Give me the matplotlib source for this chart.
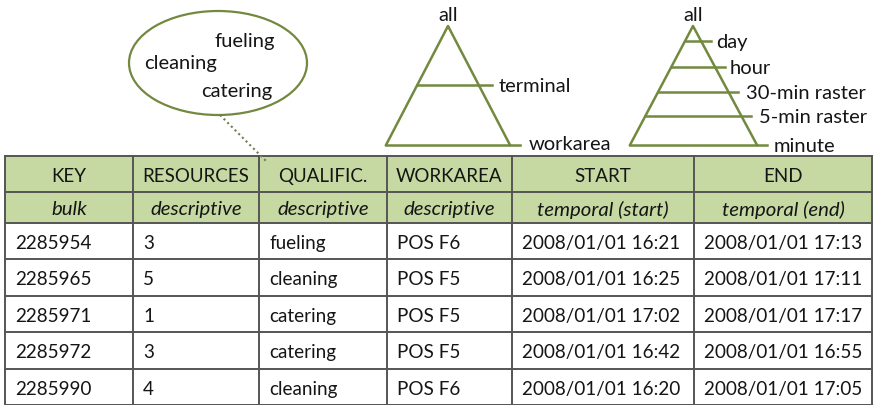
import matplotlib.pyplot as plt
import matplotlib.patches as patches

# --- data ---
columns = ["KEY", "RESOURCES", "QUALIFIC.", "WORKAREA", "START", "END"]
col_types = ["bulk", "descriptive", "descriptive", "descriptive", "temporal (start)", "temporal (end)"]
keys = ["2285954", "2285965", "2285971", "2285972", "2285990"]
resources = ["3", "5", "1", "3", "4"]
qualific = ["fueling", "cleaning", "catering", "catering", "cleaning"]
workarea = ["POS F6", "POS F5", "POS F5", "POS F5", "POS F6"]
start = ["2008/01/01 16:21", "2008/01/01 16:25", "2008/01/01 17:02", "2008/01/01 16:42", "2008/01/01 16:20"]
end = ["2008/01/01 17:13", "2008/01/01 17:11", "2008/01/01 17:17", "2008/01/01 16:55", "2008/01/01 17:05"]

qualific_values = ["fueling", "cleaning", "catering"]
area_levels = ["all", "terminal", "workarea"]
time_levels = ["all", "day", "hour", "30-min raster", "5-min raster", "minute"]

# --- layout (pixels) ---
W, H = 876, 406
col_x = [5, 133, 259, 387, 512, 694, 872]
row_y = [157, 193, 224, 260, 297, 333, 370, 406]
GREEN = "#c6d9a2"
OLIVE = "#72893f"
GRID = "#555555"
TXT = "#151515"
FONT = "Lato"

fig = plt.figure(figsize=(W / 100, H / 100), dpi=100)
ax = fig.add_axes([0, 0, 1, 1])
ax.set_xlim(0, W)
ax.set_ylim(H, 0)
ax.axis("off")

# header backgrounds
for r in (0, 1):
    ax.add_patch(patches.Rectangle((col_x[0], row_y[r]), col_x[-1] - col_x[0],
                                   row_y[r + 1] - row_y[r], facecolor=GREEN, edgecolor="none"))
# grid
for y in row_y:
    ax.plot([col_x[0], col_x[-1]], [y, y], color=GRID, lw=1.4)
for x in col_x:
    ax.plot([x, x], [row_y[0], row_y[-1]], color=GRID, lw=1.4)

for c in range(len(columns)):
    cx = (col_x[c] + col_x[c + 1]) / 2
    ax.text(cx, (row_y[0] + row_y[1]) / 2, columns[c], ha="center", va="center_baseline",
            fontsize=13.5, family=FONT, color=TXT)
    ax.text(cx, (row_y[1] + row_y[2]) / 2, col_types[c], ha="center", va="center_baseline",
            fontsize=14.7, family=FONT, style="italic", color=TXT)

table_cols = [keys, resources, qualific, workarea, start, end]
for c, vals in enumerate(table_cols):
    for r, v in enumerate(vals):
        y = (row_y[r + 2] + row_y[r + 3]) / 2
        ax.text(col_x[c] + 10, y, v, ha="left", va="center_baseline",
                fontsize=13.6, family=FONT, color=TXT)

# ellipse with qualification values
ax.add_patch(patches.Ellipse((218, 64), 178, 104, facecolor="white", edgecolor=OLIVE, lw=1.6))
ell_pos = [(245, 40), (181, 62), (237, 90)]
for (x, y), t in zip(ell_pos, qualific_values):
    ax.text(x, y, t, ha="center", va="center_baseline", fontsize=14.5, family=FONT, color=TXT)
ax.plot([220, 267], [116, 163], color="#6d7d52", lw=1.5, ls=(0, (1, 1.5)))

# area hierarchy triangle
apex1, bl1, br1, top1, bot1 = 448, 386, 510, 27, 146
ax.plot([bl1, apex1, br1], [bot1, top1, bot1], color=OLIVE, lw=1.8)
ax.plot([bl1, br1 + 10], [bot1, bot1], color=OLIVE, lw=1.8)
ax.plot([417, 492], [86, 86], color=OLIVE, lw=1.8)
ax.text(apex1, 14, area_levels[0], ha="center", va="center_baseline", fontsize=14.5, family=FONT, color=TXT)
ax.text(499, 85, area_levels[1], ha="left", va="center_baseline", fontsize=14.5, family=FONT, color=TXT)
ax.text(529, 143, area_levels[2], ha="left", va="center_baseline", fontsize=14.5, family=FONT, color=TXT)

# time hierarchy triangle
apex2, bl2, br2 = 693, 630, 757
ax.plot([bl2, apex2, br2], [bot1, top1, bot1], color=OLIVE, lw=1.8)
level_y = [42, 68, 93, 117, 146]
label_x = [716, 730, 746, 759, 774]
for yy, lx, t in zip(level_y, label_x, time_levels[1:]):
    frac = (yy - top1) / (bot1 - top1)
    xl = apex2 - (apex2 - bl2) * frac
    xr = apex2 + (br2 - apex2) * frac
    ax.plot([xl, xr + 10], [yy, yy], color=OLIVE, lw=1.8)
    ax.text(lx, yy - 1, t, ha="left", va="center_baseline", fontsize=14.5, family=FONT, color=TXT)
ax.text(apex2, 14, time_levels[0], ha="center", va="center_baseline", fontsize=14.5, family=FONT, color=TXT)

fig.savefig("out.png", dpi=100)
